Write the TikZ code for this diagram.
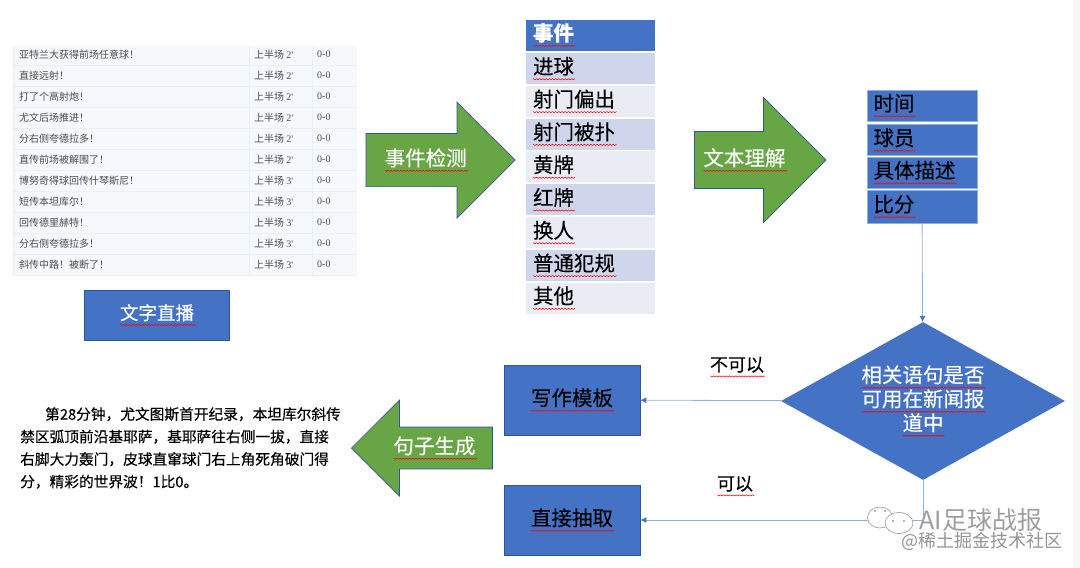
\documentclass[tikz,border=0pt]{standalone}
\usepackage{fontspec}
\setmainfont[FakeBold=0.25]{Noto Sans CJK SC}
\newfontfamily\tabfont{Noto Sans CJK SC}
\newfontfamily\romfont{Liberation Serif}
\usetikzlibrary{arrows.meta,shapes.arrows,shapes.geometric}
\definecolor{boxblue}{HTML}{4472C4}
\definecolor{boxedge}{HTML}{2F5597}
\definecolor{arrowgreen}{HTML}{68A544}
\definecolor{rowdark}{HTML}{CFD5EA}
\definecolor{rowlight}{HTML}{E9EBF5}
\definecolor{linkblue}{HTML}{8FAFDC}
\definecolor{tablebg}{HTML}{F5F9FC}
\definecolor{tableline}{HTML}{EAF0F6}
\newbox\sqbox
\newdimen\sqx
\newcount\sqn
\newcommand{\sq}[1]{\leavevmode\setbox\sqbox=\hbox{#1}%
 \rlap{\begin{pgfpicture}\pgfsetbaseline{0pt}\pgfsetlinewidth{.55pt}\pgfsetroundjoin\pgfsetstrokecolor{red}%
 \sqx=0pt \sqn=0 \pgfpathmoveto{\pgfqpoint{0pt}{-4.6pt}}%
 \loop\ifdim\sqx<\wd\sqbox \advance\sqx by 1.6pt \advance\sqn by 1
  \ifodd\sqn \pgfpathlineto{\pgfpoint{\sqx}{-5.8pt}}\else \pgfpathlineto{\pgfpoint{\sqx}{-4.6pt}}\fi\repeat
 \pgfusepath{stroke}\end{pgfpicture}}\box\sqbox}
\newcommand{\bigcn}{\fontsize{20.5}{24}\selectfont}
\tikzset{
 bluebox/.style={fill=boxblue,draw=boxedge,line width=0.6pt,minimum width=145pt,text=white,font=\bigcn},
 evrow/.style={minimum width=129pt,minimum height=31pt,text width=115pt,inner xsep=7pt,inner ysep=0pt,align=left,font=\bigcn},
 factrow/.style={fill=boxblue,draw=linkblue,line width=0.4pt,minimum width=110pt,text width=97pt,inner xsep=6.5pt,inner ysep=0pt,align=left,font=\bigcn},
 stagearrow/.style={single arrow,fill=arrowgreen,draw=boxedge,line width=0.7pt,single arrow tip angle=90,text=white,font=\bigcn,inner xsep=0pt},
 tabcell/.style={anchor=west,inner sep=0pt,text=black!70,font=\tabfont\fontsize{10}{12}\selectfont},
 link/.style={draw=linkblue,line width=0.8pt,-{Latex[length=6pt,width=6pt,color=boxblue]}}
}
\begin{document}
\begin{tikzpicture}[x=1pt,y=-1pt]
 \useasboundingbox (0,0) rectangle (1080,568);
 \fill[black!3] (1073,0) rectangle (1080,568);
 % table
 \fill[tablebg] (12,46) rectangle (357,275);
 \foreach \i in {0,...,10}
  \draw[tableline,line width=1pt] (12,{65+21*\i}) -- (357,{65+21*\i});
 \foreach \c in {14,249,312}
  \draw[tableline,line width=1pt] (\c,46) -- (\c,275);
 \foreach \i/\txt/\mn in {0/亚特兰大获得前场任意球！/2,1/直接远射！/2,2/打了个高射炮！/2,3/尤文后场推进！/2,4/分右侧夸德拉多！/2,5/直传前场被解围了！/2,6/博努奇得球回传什琴斯尼！/3,7/短传本坦库尔！/3,8/回传德里赫特！/3,9/分右侧夸德拉多！/3,10/斜传中路！被断了！/3}{
  \node[tabcell] (msg\i) at (19,{54.5+21*\i}) {\txt};
  \node[tabcell] (half\i) at (254,{54.5+21*\i}) {上半场 {\romfont\mn'}};
  \node[tabcell] (score\i) at (317,{54.5+21*\i}) {\romfont 0-0};
 }
 \node[bluebox,minimum height=50pt,font=\fontsize{18.5}{22}\selectfont] (live) at (157,315) {\sq{文字直播}};
 % first arrow
 \node[stagearrow,inner ysep=12.5pt,minimum height=149pt,minimum width=116pt,single arrow head extend=29pt,anchor=tip] (detect) at (515.5,160) {\sq{事件检测}\hspace*{3pt}};
 % events
 \node[evrow,fill=boxblue,text=white,font=\bigcn\bfseries] (event) at (590.5,35) {\sq{事件}};
 \foreach \i/\lbl/\col in {1/进球/rowdark,2/射门偏出/rowlight,3/射门被扑/rowdark,4/黄牌/rowlight,5/红牌/rowdark,6/换人/rowlight,7/普通犯规/rowdark,8/其他/rowlight}
  \node[evrow,fill=\col] (event\i) at (590.5,{68.5+32.8*(\i-1)}) {\sq{\lbl}};
 % second arrow
 \node[stagearrow,inner ysep=14.5pt,minimum height=131.5pt,minimum width=125pt,single arrow head extend=31.5pt,anchor=tip] (parse) at (826.5,160) {\sq{文本理解}\hspace*{3pt}};
 \node[factrow,minimum height=31pt] (time) at (922,105.5) {\sq{时间}};
 \node[factrow,minimum height=31pt] (player) at (922,140) {\sq{球员}};
 \node[factrow,minimum height=31pt] (detail) at (922,172.5) {\sq{具体描述}};
 \node[factrow,minimum height=33pt] (score) at (922,206.5) {\sq{比分}};
 % decision
 \node[diamond,aspect=1.8,fill=boxblue,minimum width=284pt,minimum height=158pt,inner sep=0pt,text=white,align=center,font=\fontsize{20.5}{24}\selectfont] (judge) at (923,401) {\sq{相关语句是否}\\\sq{可用在新闻报}\\\sq{道中}};
 \node[bluebox,minimum width=136pt,minimum height=70pt,text=black] (tmpl) at (572,400) {\sq{写作模板}};
 \node[bluebox,minimum width=136pt,minimum height=70pt,text=black] (extract) at (572,520) {\sq{直接抽取}};
 \draw[link] (score) -- (judge);
 \draw[link] (judge) -- (tmpl);
 \draw[link] (judge.south) |- (extract);
 \node[font=\fontsize{18}{22}\selectfont] (no) at (737,367) {\sq{不可以}};
 \node[font=\fontsize{18}{22}\selectfont] (yes) at (735,486) {\sq{可以}};
 % third arrow and result
 \node[stagearrow,inner ysep=7pt,shape border rotate=180,minimum height=141pt,minimum width=96pt,single arrow head extend=24.5pt,anchor=tip] (gen) at (351,448) {\hspace*{4pt}\sq{句子生成}};
 \node[anchor=north west,inner sep=0pt,align=left,font=\fontsize{14.7}{22.5}\selectfont] (result) at (20,407) {\hspace*{25pt}第28分钟，尤文图斯首开纪录，本坦库尔斜传\\禁区弧顶前沿基耶萨，基耶萨往右侧一拔，直接\\右脚大力轰门，皮球直窜球门右上角死角破门得\\分，精彩的世界波！1比0。};
 % watermark
 \fill[white,draw=black!35,line width=0.7pt] (880,517.5) ellipse (12.5pt and 10.5pt);
 \fill[white,draw=black!35,line width=0.7pt] (899,523) ellipse (14pt and 10.5pt);
 \foreach \p in {(875,511),(885,511),(893,521),(904,521)}
  \fill[black!40] \p circle (1.2pt);
 \node[text=black!38,font=\tabfont\fontsize{25}{28}\selectfont] (brand) at (981,520) {AI足球战报};
 \node[text=black!42,font=\tabfont\fontsize{18}{22}\selectfont] (site) at (982,541) {@稀土掘金技术社区};
\end{tikzpicture}
\end{document}
